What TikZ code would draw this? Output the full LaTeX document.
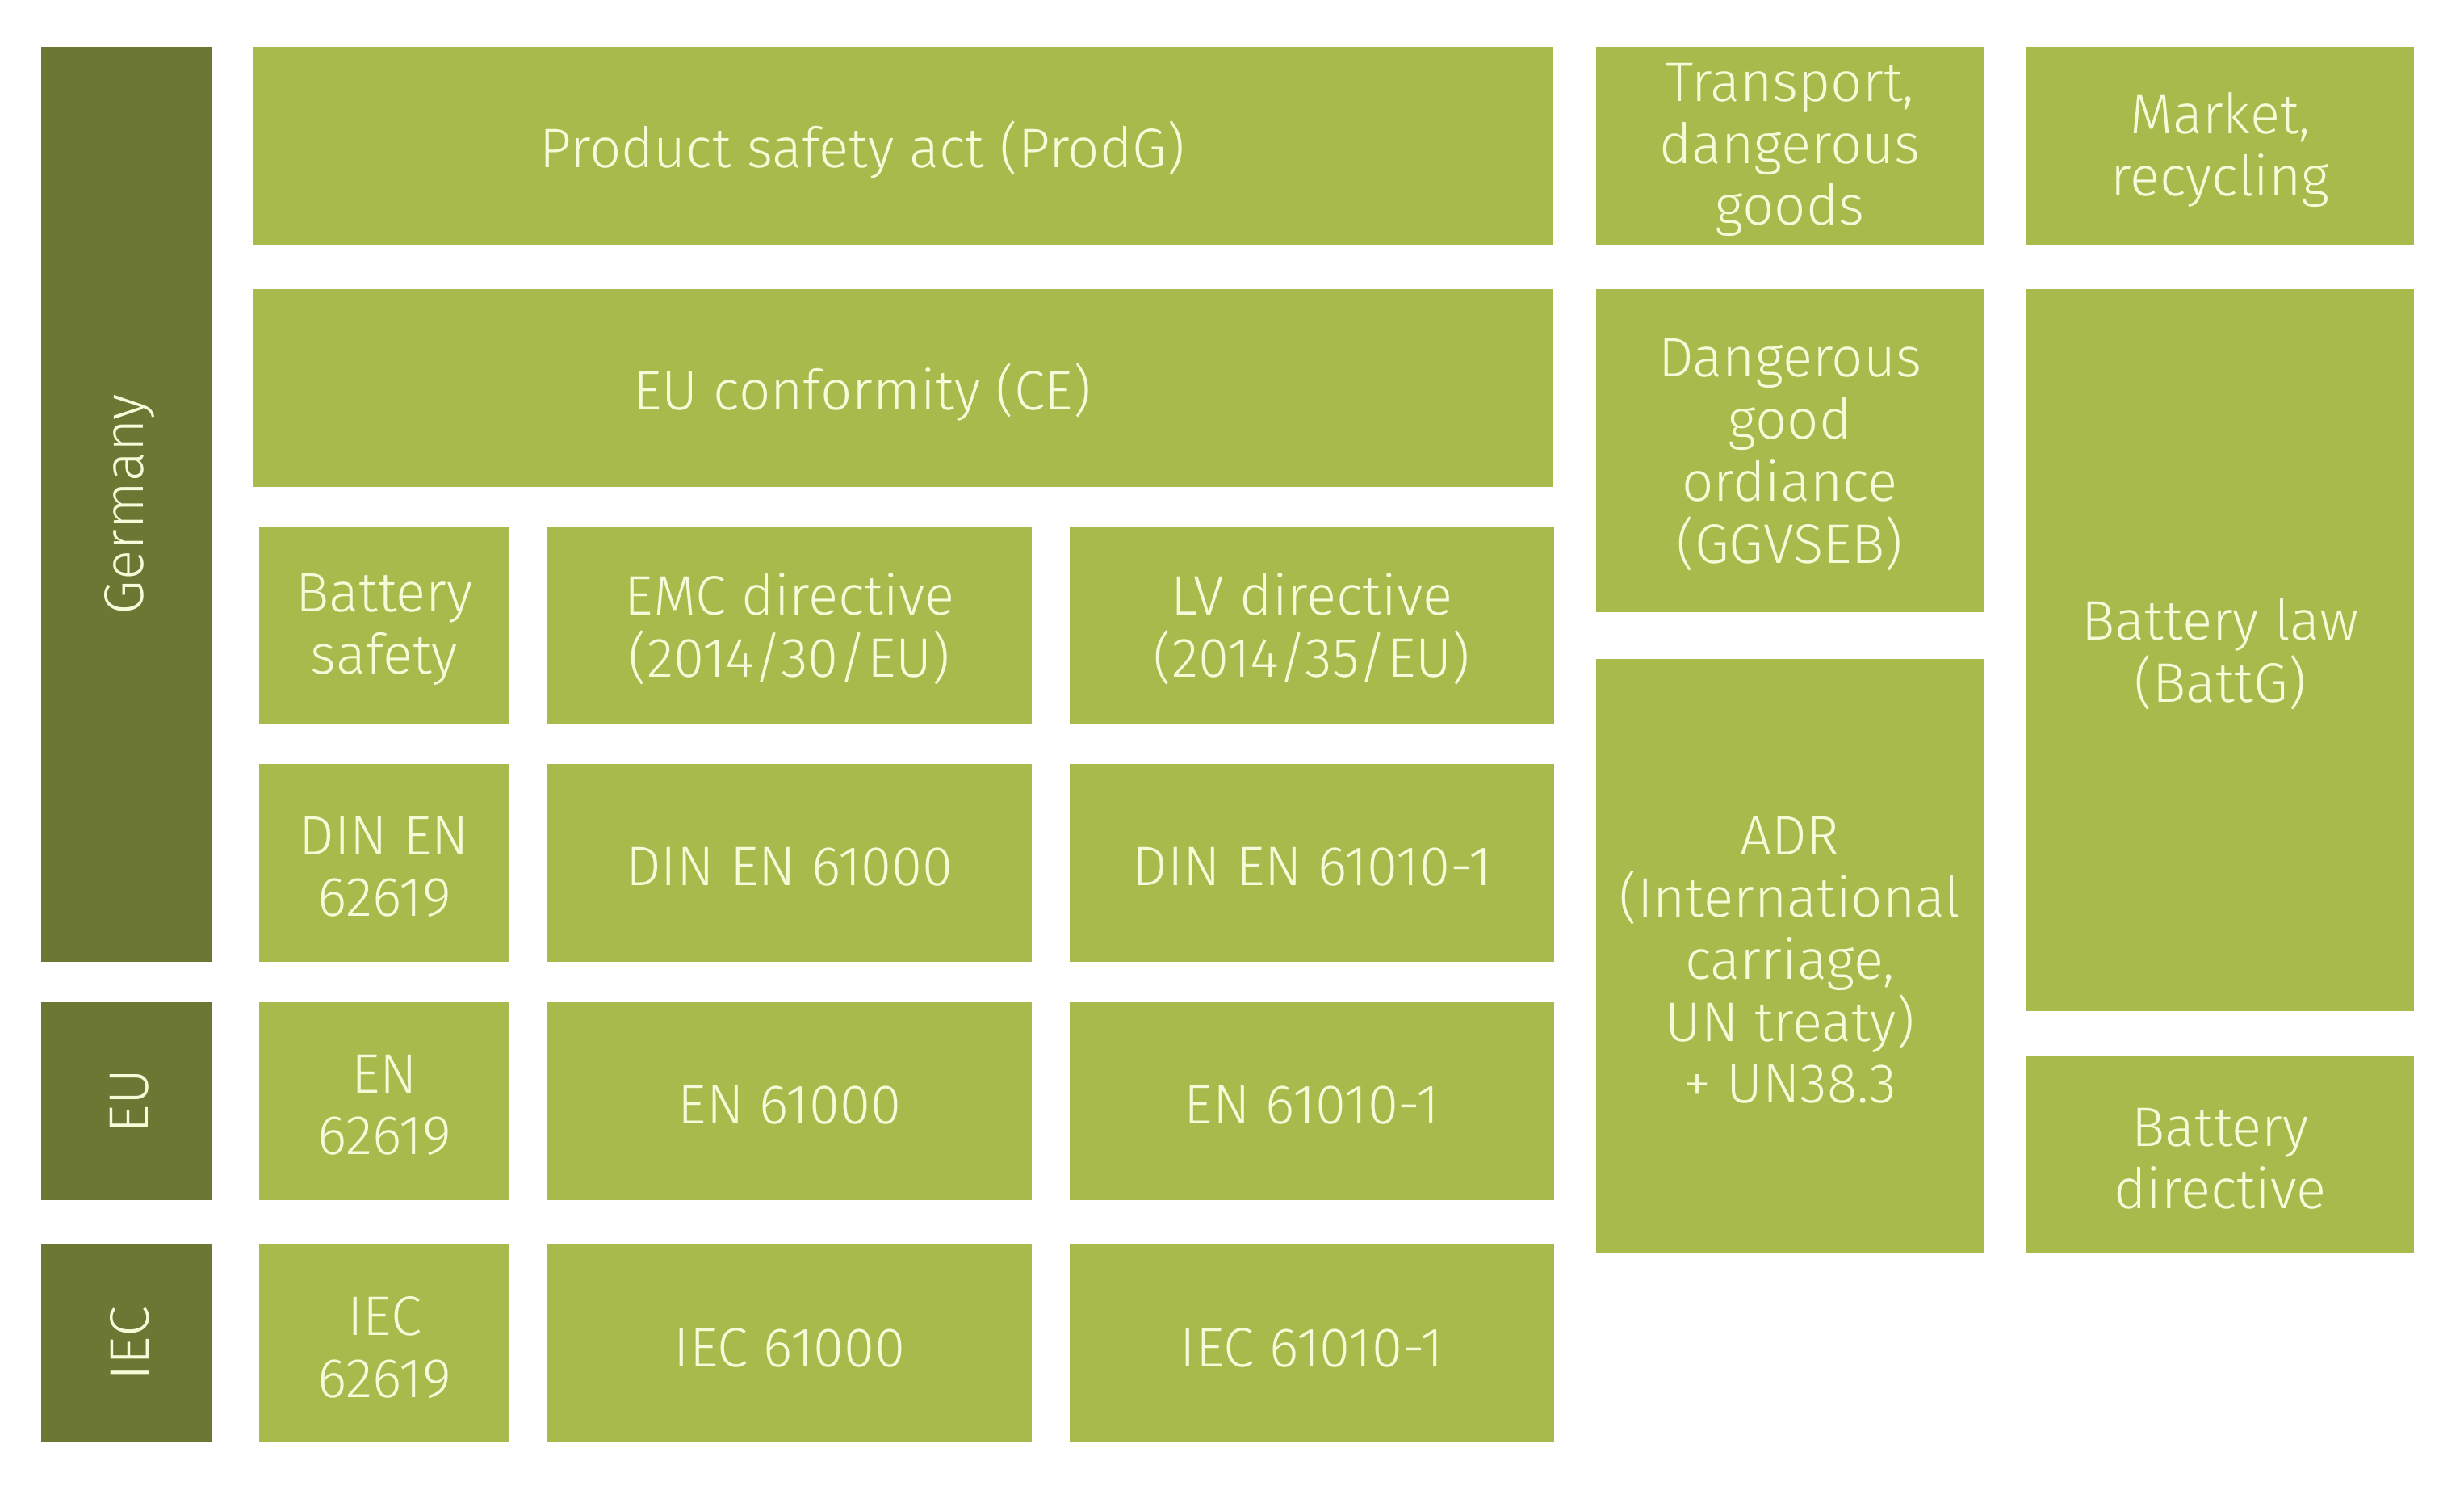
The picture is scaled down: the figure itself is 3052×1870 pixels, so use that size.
\documentclass[tikz,border=0pt]{standalone}
\usepackage{fontspec}
\setmainfont{Fira Sans Light}
\definecolor{lg}{HTML}{A8BA4C}
\definecolor{dg}{HTML}{6C7733}
\definecolor{tc}{HTML}{F6FAD8}
\tikzset{
  cell/.style={fill=lg, draw=none, inner sep=0pt, align=center, text=tc,
    font=\fontsize{34.5}{38.4}\selectfont},
  dcell/.style={cell, fill=dg},
  lbl/.style={inner sep=0pt, align=center, text=tc, font=\fontsize{34.5}{38.4}\selectfont}
}
\newcommand\gcell[6]{%
  \node[#1, minimum width={(#5-#3)*0.5pt}, minimum height={(#6-#4)*0.5pt}]
    (#2) at ({(#3+#5)/2},{(#4+#6)/2}) }
\newcommand\gtext[3]{%
  \node[lbl, yshift=-2.5pt] (#1) at (#2) {#3}; }
\begin{document}
\begin{tikzpicture}[x=0.5pt, y=-0.5pt]
\useasboundingbox[fill=white] (0,0) rectangle (3052,1870);
% left region labels
\gcell{dcell}{germany}{51}{58}{262}{1191} {};
\node[lbl, rotate=90] (germanyt) at (160.5,624.5) {Germany};
\gcell{dcell}{eu}{51}{1241}{262}{1486} {};
\node[lbl, rotate=90] (eut) at (160.5,1363.5) {EU};
\gcell{dcell}{iec}{51}{1541}{262}{1786} {};
\node[lbl, rotate=90] (iect) at (160.5,1663.5) {IEC};
% wide rows
\gcell{cell}{prodg}{313}{58}{1924}{303} {};
\gtext{prodgt}{1068,180.5}{Product safety act (ProdG)}
\gcell{cell}{ce}{313}{358}{1924}{603} {};
\gtext{cet}{1068,480.5}{EU conformity (CE)}
% row C
\gcell{cell}{bsafe}{321}{652}{631}{896} {};
\gtext{bsafet}{bsafe.center}{Battery\\safety}
\gcell{cell}{emc}{678}{652}{1278}{896} {};
\gtext{emct}{emc.center}{EMC directive\\(2014/30/EU)}
\gcell{cell}{lv}{1325}{652}{1925}{896} {};
\gtext{lvt}{lv.center}{LV directive\\(2014/35/EU)}
% row D
\gcell{cell}{din1}{321}{946}{631}{1191} {};
\gtext{din1t}{din1.center}{DIN EN\\62619}
\gcell{cell}{din2}{678}{946}{1278}{1191} {};
\gtext{din2t}{din2.center}{DIN EN 61000}
\gcell{cell}{din3}{1325}{946}{1925}{1191} {};
\gtext{din3t}{din3.center}{DIN EN 61010-1}
% row E
\gcell{cell}{en1}{321}{1241}{631}{1486} {};
\gtext{en1t}{en1.center}{EN\\62619}
\gcell{cell}{en2}{678}{1241}{1278}{1486} {};
\gtext{en2t}{en2.center}{EN 61000}
\gcell{cell}{en3}{1325}{1241}{1925}{1486} {};
\gtext{en3t}{en3.center}{EN 61010-1}
% row F
\gcell{cell}{iec1}{321}{1541}{631}{1786} {};
\gtext{iec1t}{iec1.center}{IEC\\62619}
\gcell{cell}{iec2}{678}{1541}{1278}{1786} {};
\gtext{iec2t}{iec2.center}{IEC 61000}
\gcell{cell}{iec3}{1325}{1541}{1925}{1786} {};
\gtext{iec3t}{iec3.center}{IEC 61010-1}
% right columns
\gcell{cell}{transp}{1977}{58}{2457}{303} {};
\gtext{transpt}{transp.center}{Transport,\\dangerous\\goods}
\gcell{cell}{market}{2510}{58}{2990}{303} {};
\gtext{markett}{market.center}{Market,\\recycling}
\gcell{cell}{ggvseb}{1977}{358}{2457}{758} {};
\gtext{ggvsebt}{ggvseb.center}{Dangerous\\good\\ordiance\\(GGVSEB)}
\gcell{cell}{adr}{1977}{816}{2457}{1552} {};
\gtext{adrt}{adr.center}{ADR\\(International\\carriage,\\UN treaty)\\+ UN38.3}
\gcell{cell}{battg}{2510}{358}{2990}{1252} {};
\gtext{battgt}{battg.center}{Battery law\\(BattG)}
\gcell{cell}{battdir}{2510}{1307}{2990}{1552} {};
\gtext{battdirt}{battdir.center}{Battery\\directive}
\end{tikzpicture}
\end{document}
